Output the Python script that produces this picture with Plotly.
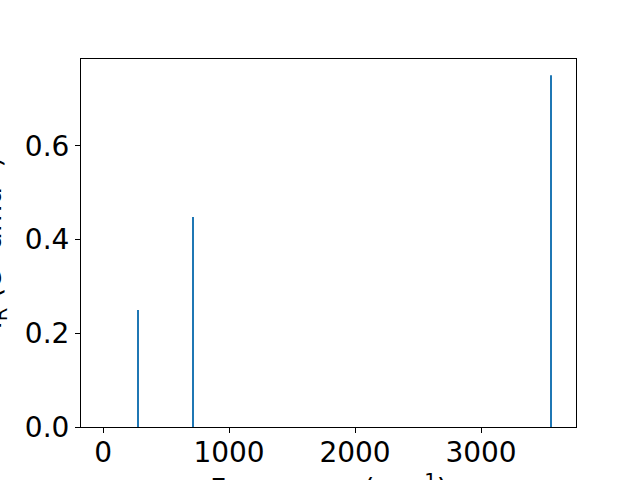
import plotly.graph_objects as go

frequencies = [278, 714, 3556]
intensities = [0.250, 0.448, 0.751]
x_ticks = [0, 1000, 2000, 3000]
y_ticks = [0.0, 0.2, 0.4, 0.6]

color = "#1f77b4"
font = dict(family="DejaVu Sans", size=28, color="black")

fig = go.Figure()
fig.add_trace(go.Bar(x=frequencies, y=intensities, width=5,
                     marker=dict(color=color, line=dict(width=0))))

fig.update_layout(
    width=640, height=480,
    margin=dict(l=81, r=64, t=59, b=53, autoexpand=False),
    paper_bgcolor="white", plot_bgcolor="white",
    showlegend=False,
    font=font,
    annotations=[
        dict(text="Frequency (cm<sup>-1</sup>)", xref="paper", yref="paper",
             x=0.5, y=0, xanchor="center", yanchor="top", yshift=-40,
             showarrow=False, font=font),
        dict(text="I<sub>R</sub> (e<sup>2</sup> amu<sup>-1</sup>)", xref="paper", yref="paper",
             x=0, y=0.5, xanchor="right", yanchor="middle", xshift=-67,
             textangle=-90, showarrow=False, font=font),
    ],
)
fig.update_xaxes(range=[-175, 3754], tickvals=x_ticks, ticks="outside", ticklen=5,
                 tickcolor="black", showline=True, linecolor="black", linewidth=1,
                 mirror=True, showgrid=False, zeroline=False, tickfont=font,
                 ticklabelstandoff=-5)
fig.update_yaxes(range=[0, 0.7855], tickvals=y_ticks, tickformat=".1f", ticks="outside",
                 ticklen=5, tickcolor="black", showline=True, linecolor="black",
                 linewidth=1, mirror=True, showgrid=False, zeroline=False, tickfont=font)

fig.write_html("out.html", config={"displayModeBar": False},
               post_script="document.body.style.margin='0';document.body.style.overflow='hidden';")
